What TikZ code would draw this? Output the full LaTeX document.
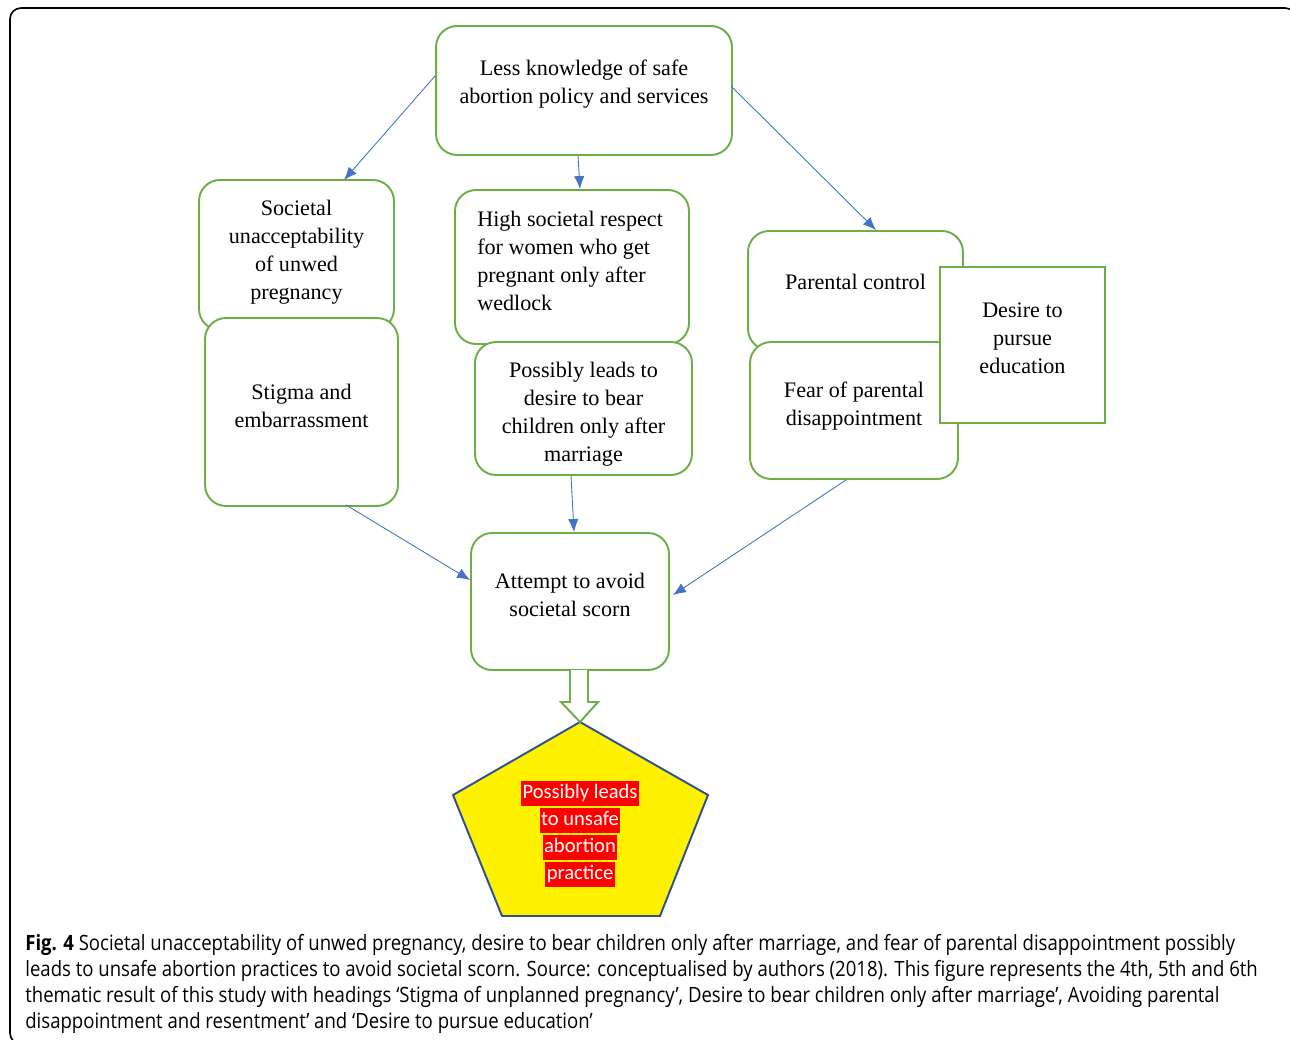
\documentclass[tikz,border=0pt]{standalone}
\usepackage{fontspec}
\setmainfont{Liberation Serif}
\newfontfamily\capfont[FakeStretch=0.88]{Open Sans}
\newfontfamily\calfont{Carlito}
\usetikzlibrary{arrows.meta}
\definecolor{boxgreen}{HTML}{70AD47}
\definecolor{linkblue}{HTML}{4472C4}
\definecolor{pentblue}{HTML}{2F528F}
\newcommand{\redline}[1]{{\setlength{\fboxsep}{0.8pt}\colorbox{red}{\rule[-3.3pt]{0pt}{12.4pt}#1}}}

\begin{document}
\begin{tikzpicture}
[x=0.02cm,y=-0.02cm,
 box/.style={draw=boxgreen,line width=1.1pt,fill=white,rounded corners=0.42cm},
 sqbox/.style={draw=boxgreen,line width=1.1pt,fill=white},
 every label/.style={align=center,font=\fontsize{12.6}{15.9}\selectfont},
 link/.style={draw=linkblue,line width=0.5pt,-{Latex[length=2.6mm,width=2.1mm]}},
 hollow/.style={draw=boxgreen,line width=1.1pt,fill=white}]

  \useasboundingbox (0,0) rectangle (1290,1040);
  \draw[line width=0.9pt,rounded corners=0.22cm] (10,8) rectangle (1296,1044);

  % boxes, later ones sit on top of earlier ones
  \node[box,minimum width=5.92cm,minimum height=2.58cm,
    label={[yshift=0.13cm]center:Less knowledge of safe\\abortion policy and services}] (know) at (584,90.5) {};
  \node[box,minimum width=3.9cm,minimum height=3.0cm,
    label={[yshift=0.06cm]center:Societal\\unacceptability\\of unwed\\pregnancy}] (soc) at (296.5,255) {};
  \node[box,minimum width=3.86cm,minimum height=3.76cm,
    label={[yshift=0.12cm]center:Stigma and\\embarrassment}] (stig) at (301.5,412) {};
  \node[box,minimum width=4.68cm,minimum height=3.08cm,
    label={[anchor=west,align=left,xshift=0.34cm,yshift=0.12cm]west:High societal respect\\for women who get\\pregnant only after\\wedlock}] (resp) at (572,267) {};
  \node[box,minimum width=4.34cm,minimum height=2.66cm,
    label={[yshift=-0.11cm]center:Possibly leads to\\desire to bear\\children only after\\marriage}] (poss) at (583.5,408.5) {};
  \node[box,minimum width=4.3cm,minimum height=2.38cm,
    label={[yshift=0.17cm]center:Parental control}] (par) at (855.5,290.5) {};
  \node[box,minimum width=4.16cm,minimum height=2.74cm,
    label={[yshift=0.09cm]center:Fear of parental\\disappointment}] (fear) at (854,410.5) {};
  \node[sqbox,minimum width=3.3cm,minimum height=3.12cm,
    label={[yshift=0.14cm]center:Desire to\\pursue\\education}] (edu) at (1022.5,345) {};
  \node[box,minimum width=3.96cm,minimum height=2.74cm,
    label={[yshift=0.13cm]center:Attempt to avoid\\societal scorn}] (att) at (570,601.5) {};

  % outcome pentagon
  \coordinate (p1) at (580,722);
  \coordinate (p2) at (708,795);
  \coordinate (p3) at (660,916);
  \coordinate (p4) at (502,916);
  \coordinate (p5) at (453,795);
  \draw[draw=pentblue,line width=1.1pt,fill=yellow] (p1) -- (p2) -- (p3) -- (p4) -- (p5) -- cycle;
  \node[align=center,text=white,inner sep=0pt,font=\calfont\fontsize{11.7}{15.4}\selectfont] (risk) at (580,834)
    {\redline{Possibly leads}\\\redline{to unsafe}\\\redline{abortion}\\\redline{practice}};

  \draw[hollow] (570,670) -- (570,702) -- (561,702) -- (p1) -- (598,702) -- (588,702) -- (588,670);

  \draw[link] ([shift={(0,-14.5)}]know.west) -- ([shift={(47.5,1)}]soc.north);
  \draw[link] ([shift={(-6,0)}]know.south) -- ([shift={(8,0)}]resp.north);
  \draw[link] ([shift={(-2,-4.5)}]know.east) -- ([shift={(20.5,0)}]par.north);
  \draw[link] ([shift={(44.5,-2)}]stig.south) -- ([shift={(0,-21.5)}]att.west);
  \draw[link] ([shift={(-12.5,0)}]poss.south) -- ([shift={(4,0)}]att.north);
  \draw[link] ([shift={(-8,0)}]fear.south) -- ([shift={(3,-6.5)}]att.east);

  \node[anchor=north west,align=left,inner sep=0pt,font=\capfont\fontsize{12}{14.74}\selectfont] (cap) at (25,934)
    {{\bfseries Fig. 4} Societal unacceptability of unwed pregnancy, desire to bear children only after marriage, and fear of parental disappointment possibly\\
     leads to unsafe abortion practices to avoid societal scorn. Source: conceptualised by authors (2018). This figure represents the 4th, 5th and 6th\\
     thematic result of this study with headings ‘Stigma of unplanned pregnancy’, Desire to bear children only after marriage’, Avoiding parental\\
     disappointment and resentment’ and ‘Desire to pursue education’};
\end{tikzpicture}
\end{document}
